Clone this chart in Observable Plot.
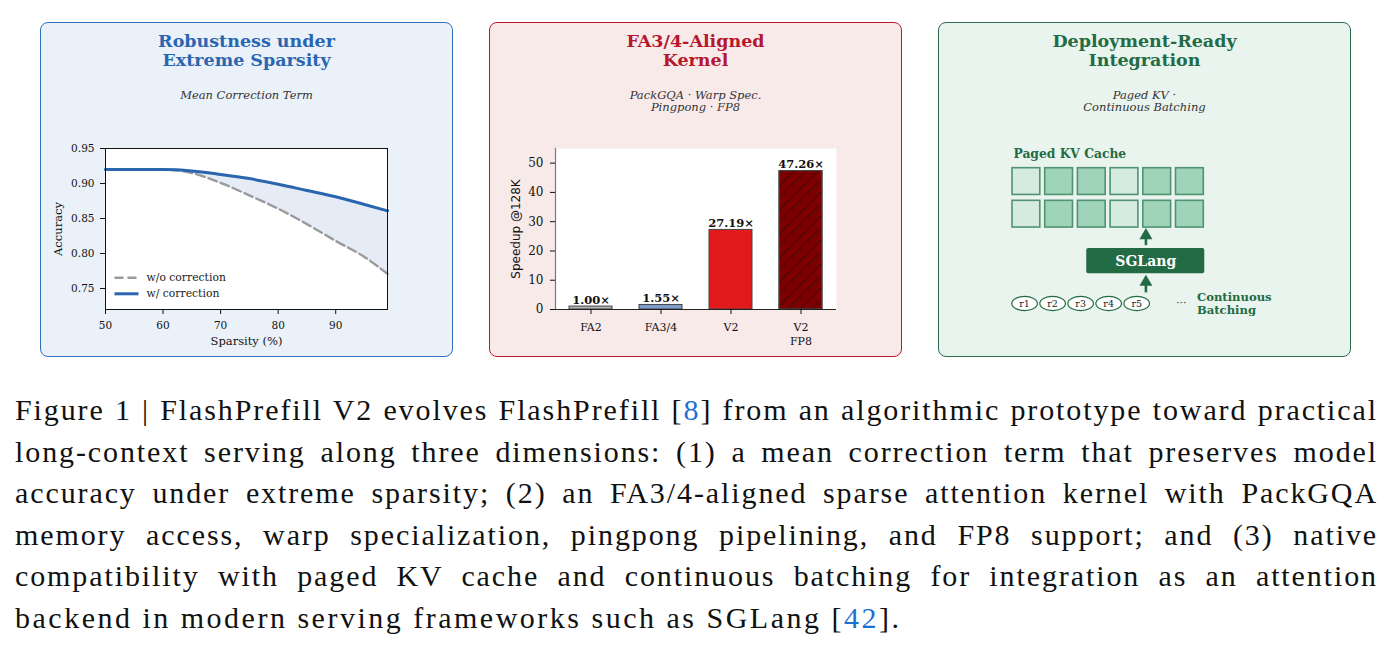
<!DOCTYPE html>
<html><head><meta charset="utf-8">
<script src="https://cdn.jsdelivr.net/npm/d3@7"></script>
<script src="https://cdn.jsdelivr.net/npm/@observablehq/plot@0.6"></script>
<style>
html,body{margin:0;padding:0;background:#fff;}
body{width:1393px;height:654px;overflow:hidden;position:relative;font-family:"DejaVu Serif",serif;}
.panel{position:absolute;top:22px;width:413px;height:335px;box-sizing:border-box;border:1.6px solid;border-radius:8px;}
.title{position:absolute;width:413px;text-align:center;font-weight:bold;font-size:17.5px;line-height:19px;top:32px;}
.sub{position:absolute;width:413px;text-align:center;font-style:italic;font-size:11.5px;line-height:12.6px;top:88.5px;color:#333;}
.chart{position:absolute;top:140px;}
#caption{position:absolute;left:15px;top:389px;width:1363px;font-family:"Liberation Serif",serif;font-size:30px;line-height:41.6px;color:#111;letter-spacing:1.9px;}
#caption div{text-align:justify;text-align-last:justify;white-space:nowrap;}
#caption div.last{text-align:left;text-align-last:left;letter-spacing:2.5px;}
#caption .ref{color:#1f6fd1;}
</style></head>
<body>
<div class="panel" style="left:40px;background:#eaf1f9;border-color:#3271b8;"></div>
<div class="panel" style="left:489px;background:#f9eaea;border-color:#b8192f;"></div>
<div class="panel" style="left:938px;background:#eaf4ee;border-color:#2b6b4b;"></div>

<div class="title" style="left:40px;color:#2a66b0;">Robustness under<br>Extreme Sparsity</div>
<div class="title" style="left:489px;color:#b5172c;">FA3/4-Aligned<br>Kernel</div>
<div class="title" style="left:938px;color:#236b45;">Deployment-Ready<br>Integration</div>

<div class="sub" style="left:40px;">Mean Correction Term</div>
<div class="sub" style="left:489px;">PackGQA · Warp Spec.<br>Pingpong · FP8</div>
<div class="sub" style="left:938px;">Paged KV ·<br>Continuous Batching</div>

<div id="c1" class="chart" style="left:40px;"></div>
<div id="c2" class="chart" style="left:489px;"></div>
<div id="c3" class="chart" style="left:938px;"></div>

<div id="caption">
<div>Figure 1 | FlashPrefill V2 evolves FlashPrefill [<span class="ref">8</span>] from an algorithmic prototype toward practical</div>
<div>long-context serving along three dimensions: (1) a mean correction term that preserves model</div>
<div>accuracy under extreme sparsity; (2) an FA3/4-aligned sparse attention kernel with PackGQA</div>
<div>memory access, warp specialization, pingpong pipelining, and FP8 support; and (3) native</div>
<div>compatibility with paged KV cache and continuous batching for integration as an attention</div>
<div class="last">backend in modern serving frameworks such as SGLang [<span class="ref">42</span>].</div>
</div>

<script>
// ---------- Panel 1 data ----------
const sparsity   = [50, 55, 60, 65, 70, 75, 80, 85, 90, 95, 99];
const accWith    = [0.920, 0.920, 0.920, 0.918, 0.913, 0.907, 0.899, 0.890, 0.881, 0.870, 0.861];
const accWithout = [0.920, 0.920, 0.920, 0.915, 0.901, 0.883, 0.864, 0.842, 0.818, 0.795, 0.771];
const sparsityTicks = [50, 60, 70, 80, 90];
const accTicks = [0.75, 0.80, 0.85, 0.90, 0.95];
const legendLabels = ["w/o correction", "w/ correction"];

// ---------- Panel 2 data ----------
const kernels = ["FA2", "FA3/4", "V2", "V2 FP8"];
const speedups = [1.00, 1.55, 27.19, 47.26];
const kernelColors = ["#b3b3b3", "#7f9ccc", "#e31a1c", "#7d0000"];
const speedTicks = [0, 10, 20, 30, 40, 50];

// ---------- Panel 3 data ----------
const cacheShades = ["free", "used", "used", "free", "used", "used"];
const cacheRows = [0, 1];
const requests = ["r1", "r2", "r3", "r4", "r5"];
const cacheTitle = "Paged KV Cache";
const engineName = "SGLang";
const batchLabel = "Continuous\nBatching";

const BLUE = "#2a66b0", GREEN = "#236b45";

// ---------- Chart 1 ----------
const rows1 = sparsity.map((s, i) => ({s, w: accWith[i], wo: accWithout[i]}));
const lineSym = {draw(ctx) { ctx.moveTo(-12, 0); ctx.lineTo(12, 0); }};
const legendStyles = [
  {stroke: "#9a9a9a", strokeWidth: 2.4, strokeDasharray: "9,4"},
  {stroke: BLUE, strokeWidth: 3, strokeDasharray: null}
];
const legendMarks = legendLabels.flatMap((lab, i) => [
  Plot.dot([lab], {frameAnchor: "bottom-left", dx: 21, dy: -31.7 + 16 * i, symbol: lineSym, fill: "none", r: 5, ...legendStyles[i]}),
  Plot.text([lab], {frameAnchor: "bottom-left", dx: 41, dy: -31.7 + 16 * i, text: d => d, textAnchor: "start", lineAnchor: "middle", fontSize: 10.8, fill: "#222"})
]);
const curve = "monotone-x";
const chart1 = Plot.plot({
  width: 413, height: 215,
  marginLeft: 65, marginRight: 66, marginTop: 8, marginBottom: 46,
  style: {background: "transparent", fontFamily: "DejaVu Serif", fontSize: "10.5px", color: "#111"},
  x: {domain: [50, 99]},
  y: {domain: [0.72, 0.95]},
  marks: [
    Plot.frame({fill: "white", stroke: "none"}),
    Plot.areaY(rows1, {x: "s", y1: "wo", y2: "w", fill: BLUE, fillOpacity: 0.12, curve}),
    Plot.lineY(rows1, {x: "s", y: "wo", stroke: "#9a9a9a", strokeWidth: 2.4, strokeDasharray: "9,4", curve}),
    Plot.lineY(rows1, {x: "s", y: "w", stroke: BLUE, strokeWidth: 3, curve}),
    ...legendMarks,
    Plot.frame({stroke: "#111", strokeWidth: 1}),
    Plot.axisX(sparsityTicks, {tickSize: 5, tickPadding: 7, label: null}),
    Plot.axisY(accTicks, {tickSize: 5, tickPadding: 6, tickFormat: ".2f", label: null}),
    Plot.text(["Sparsity (%)"], {frameAnchor: "bottom", dy: 31.5, text: d => d, fontSize: 11.5, textAnchor: "middle", lineAnchor: "middle"}),
    Plot.text(["Accuracy"], {frameAnchor: "left", dx: -47, rotate: -90, text: d => d, fontSize: 11.5, textAnchor: "middle", lineAnchor: "middle"})
  ]
});
document.getElementById("c1").append(chart1);

// ---------- Chart 2 ----------
const bars = kernels.map((k, i) => ({k, v: speedups[i], c: kernelColors[i]}));
const chart2 = Plot.plot({
  width: 413, height: 215,
  marginLeft: 66, marginRight: 66, marginTop: 8, marginBottom: 46,
  style: {background: "transparent", fontFamily: "DejaVu Serif", fontSize: "11px", color: "#111"},
  x: {domain: kernels, paddingInner: 0.38, paddingOuter: 0.17},
  y: {domain: [0, 55]},
  marks: [
    Plot.frame({fill: "white", stroke: "none"}),
    Plot.barY(bars, {x: "k", y: "v", fill: "c", stroke: "#444", strokeWidth: 1}),
    Plot.barY(bars.filter(d => d.k === "V2 FP8"), {x: "k", y: "v", fill: "url(#hatchFP8)", stroke: "#444", strokeWidth: 1}),
    Plot.text(bars, {x: "k", y: "v", text: d => d.v.toFixed(2) + "×", dy: -3, lineAnchor: "bottom", fontWeight: "bold", fontSize: 11.5, fill: "#111"}),
    Plot.frame({anchor: "left", stroke: "#777", strokeWidth: 1.2}),
    Plot.ruleY([0], {stroke: "#222", strokeWidth: 1.2}),
    Plot.axisX({tickSize: 5, tickPadding: 7, tickFormat: d => d.replace(" ", "\n"), label: null, lineHeight: 1.25}),
    Plot.axisY(speedTicks, {tickSize: 5, tickPadding: 7, label: null, fontSize: 12}),
    Plot.text(["Speedup @128K"], {frameAnchor: "left", dx: -39, rotate: -90, text: d => d, fontFamily: "DejaVu Sans", fontSize: 12, textAnchor: "middle", lineAnchor: "middle"})
  ]
});
d3.select(chart2).insert("defs", ":first-child").html(
  `<pattern id="hatchFP8" patternUnits="userSpaceOnUse" width="12" height="12">
     <path d="M-3,3 L3,-3 M0,12 L12,0 M9,15 L15,9" stroke="#111" stroke-width="0.7"/>
   </pattern>`);
document.getElementById("c2").append(chart2);

// ---------- Chart 3 (diagram in cache-cell units) ----------
const cells = cacheRows.flatMap(r => cacheShades.map((s, c) => ({r, c, s})));
const ellipseSym = {draw(ctx) {
  const rx = 12.8, ry = 7.1, k = 0.5523;
  ctx.moveTo(rx, 0);
  ctx.bezierCurveTo(rx, ry * k, rx * k, ry, 0, ry);
  ctx.bezierCurveTo(-rx * k, ry, -rx, ry * k, -rx, 0);
  ctx.bezierCurveTo(-rx, -ry * k, -rx * k, -ry, 0, -ry);
  ctx.bezierCurveTo(rx * k, -ry, rx, -ry * k, rx, 0);
  ctx.closePath();
}};
const L = {cellW: 0.85, cellH: 0.82, arrowX: 4.08, box: [2.27, 5.88, 2.46, 3.24], reqX0: 0.37, reqStep: 0.857, reqY: 4.15};
const arrows = [{y1: 2.36, y2: 2.08}, {y1: 3.81, y2: 3.51}];
const chart3 = Plot.plot({
  width: 413, height: 185,
  style: {background: "transparent", fontFamily: "DejaVu Serif", fontSize: "10px", color: "#111"},
  x: {type: "linear", domain: [0, 6], range: [74, 270.2], axis: null},
  y: {type: "linear", domain: [0, 5], range: [27.7, 27.7 + 5 * 32.6], axis: null},
  marks: [
    Plot.text([cacheTitle], {x: 0.03, y: -0.43, text: d => d, textAnchor: "start", lineAnchor: "middle", fontWeight: "bold", fontSize: 12.3, fill: GREEN}),
    Plot.rect(cells, {x1: d => d.c, x2: d => d.c + L.cellW, y1: d => d.r, y2: d => d.r + L.cellH,
      fill: d => d.s === "free" ? "#d5ebdf" : "#9fd4b8", stroke: "#4f9372", strokeWidth: 1.6}),
    Plot.link(arrows, {x1: L.arrowX, x2: L.arrowX, y1: "y1", y2: "y2", stroke: GREEN, strokeWidth: 2.6}),
    Plot.dot(arrows, {x: L.arrowX, y: "y2", symbol: "triangle", r: 4.8, fill: GREEN, stroke: "none", dy: -0.5}),
    Plot.rect([engineName], {x1: L.box[0], x2: L.box[1], y1: L.box[2], y2: L.box[3], fill: GREEN, rx: 2}),
    Plot.text([engineName], {x: (L.box[0] + L.box[1]) / 2, y: (L.box[2] + L.box[3]) / 2, text: d => d, fill: "white", fontWeight: "bold", fontSize: 14, lineAnchor: "middle"}),
    Plot.dot(requests, {x: (d, i) => L.reqX0 + i * L.reqStep, y: L.reqY, symbol: ellipseSym, r: 5, fill: "white", stroke: GREEN, strokeWidth: 1.2}),
    Plot.text(requests, {x: (d, i) => L.reqX0 + i * L.reqStep, y: L.reqY, text: d => d, fontSize: 9.5, fill: "#222", lineAnchor: "middle"}),
    Plot.text(["···"], {x: 5.16, y: L.reqY, text: d => d, fontSize: 11, fill: GREEN, lineAnchor: "middle"}),
    Plot.text([batchLabel], {x: 5.64, y: 4.14, text: d => d, textAnchor: "start", lineAnchor: "middle", fontWeight: "bold", fontSize: 11.6, lineHeight: 1.15, fill: GREEN})
  ]
});
document.getElementById("c3").append(chart3);
</script>
</body></html>
